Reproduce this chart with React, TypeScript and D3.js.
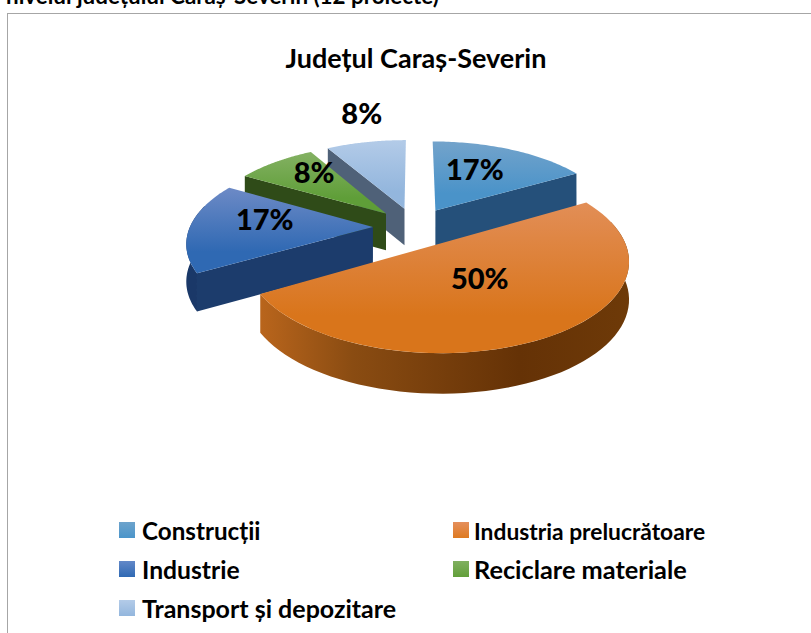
import React from "react";
import * as d3 from "d3";

const categories = ["Construcții", "Industria prelucrătoare", "Industrie", "Reciclare materiale", "Transport și depozitare"];
const projects = [2, 6, 2, 1, 1];
const percentLabels = ["17%", "50%", "17%", "8%", "8%"];
const drawOrder = [4, 0, 3, 2, 1];

const topColors = [["#73a3cb", "#4a93c9"], ["#e28e57", "#d9751b"], ["#6d8ac6", "#2f69b3"], ["#84b163", "#5f9e38"], ["#b3cbe8", "#93b6dd"]];
const wallColors = ["#25507a", "#693608", "#1c3c6c", "#2f4b18", "#4f6178"];
const legendColors = [["#6da3cc", "#4b95ca"], ["#e58f5c", "#de7a20"], ["#6288c8", "#2f69b3"], ["#80b060", "#629f3a"], ["#b3cbe8", "#93b6dd"]];
const labelRadius = [0.45, 0.45, 0.58, 0.56, 0.95];
const labelNudge = [[3, -12], [-4, -4], [-2, -7], [-7, -11], [-6, -32]];

const cx = 415, cy = 227, rx = 183, ry = 85, k = 0.16, explode = 0.23, depth = 37;
const project = (X: number, Y: number, z = 0): [number, number] => {
  const s = 1 / (1 - k * Y);
  return [cx + rx * X * s, cy + ry * Y * s + z * (0.6 + 0.4 * s)];
};

const pieGen = d3.pie<number>().sort(null).value((d) => d);
const arcs = pieGen(projects);
const lineGen = d3.line<[number, number]>();

function sliceGeom(a: d3.PieArcDatum<number>) {
  const mid = (a.startAngle + a.endAngle) / 2;
  const ox = Math.sin(mid) * explode, oy = -Math.cos(mid) * explode;
  const pt = (t: number, r = 1, z = 0) => project(ox + r * Math.sin(t), oy - r * Math.cos(t), z);
  return { mid, pt };
}
const range = (a: number, b: number) => d3.range(0, 61).map((i) => a + ((b - a) * i) / 60);

function Slice({ i }: { i: number }) {
  const a = arcs[i];
  const { mid, pt } = sliceGeom(a);
  const apex = pt(0, 0);
  const outer = range(a.startAngle, a.endAngle).map((t) => pt(t));
  const top = lineGen([apex, ...outer])! + "Z";
  const inner = pt(mid, 0.6);
  const wallAt = (t: number) => {
    const e = pt(t);
    const dx = e[0] - apex[0];
    if (Math.abs(dx) < 3) return null;
    const yLine = apex[1] + ((e[1] - apex[1]) * (inner[0] - apex[0])) / dx;
    if (inner[1] > yLine) return null;
    return lineGen([apex, e, pt(t, 1, depth), pt(0, 0, depth)])! + "Z";
  };
  const lo = Math.max(a.startAngle, (75 * Math.PI) / 180);
  const hi = Math.min(a.endAngle, (285 * Math.PI) / 180);
  const rim = hi > lo ? range(lo, hi) : null;
  const rimPath = rim ? lineGen([...rim.map((t) => pt(t)), ...rim.slice().reverse().map((t) => pt(t, 1, depth))])! + "Z" : null;
  const w0 = wallAt(a.startAngle), w1 = wallAt(a.endAngle);
  return (
    <g>
      {w0 && <path d={w0} fill={wallColors[i]} />}
      {w1 && <path d={w1} fill={wallColors[i]} />}
      {rimPath && <path d={rimPath} fill={`url(#rim${i})`} />}
      <path d={top} fill={`url(#top${i})`} />
    </g>
  );
}

function Label({ i }: { i: number }) {
  const { mid, pt } = sliceGeom(arcs[i]);
  const [x, y] = pt(mid, labelRadius[i]);
  return (
    <text x={x + labelNudge[i][0]} y={y + labelNudge[i][1]} dy="0.36em" textAnchor="middle" fontSize={29} fontWeight={900} fill="#000">
      {percentLabels[i]}
    </text>
  );
}

const legendX = [119, 453];
const legendTextX = [142, 474];
const legendY = [522, 561, 600];
const legendSize = [24.2, 22.8, 24.7, 25.3, 25];

export default function App() {
  return (
    <svg width={811} height={633} style={{ position: "absolute", left: 0, top: 0 }} fontFamily="Lato, sans-serif">
      <defs>
        {categories.map((_, i) => {
          const ys = outerYs(i);
          return (
            <React.Fragment key={i}>
              <linearGradient id={`top${i}`} gradientUnits="userSpaceOnUse" x1={0} x2={0} y1={ys[0]} y2={ys[0] + (ys[1] - ys[0]) * 0.75}>
                <stop offset="0" stopColor={topColors[i][0]} />
                <stop offset="1" stopColor={topColors[i][1]} />
              </linearGradient>
              <linearGradient id={`rim${i}`} gradientUnits="userSpaceOnUse" x1={260} x2={630} y1={0} y2={0}>
                <stop offset="0" stopColor={i === 1 ? "#b9651c" : "#1a3868"} />
                <stop offset="0.25" stopColor={i === 1 ? "#8a4c12" : "#1c3c6c"} />
                <stop offset="0.7" stopColor={i === 1 ? "#653206" : "#1c3c6c"} />
                <stop offset="1" stopColor={i === 1 ? "#6e3a08" : "#1c3c6c"} />
              </linearGradient>
            </React.Fragment>
          );
        })}
        {categories.map((_, i) => (
          <linearGradient key={i} id={`leg${i}`} x1="0" x2="0" y1="0" y2="1">
            <stop offset="0" stopColor={legendColors[i][0]} />
            <stop offset="1" stopColor={legendColors[i][1]} />
          </linearGradient>
        ))}
      </defs>
      <rect width={811} height={633} fill="#fff" />
      <text x={6} y={4} fontSize={22.4} fontWeight={700}>nivelul județului Caraș-Severin (12 proiecte)</text>
      <rect x={7.5} y={13.5} width={820} height={640} fill="#fff" stroke="#a6a6a6" />
      <text x={416} y={68} textAnchor="middle" fontSize={27} fontWeight={700}>Județul Caraș-Severin</text>
      {drawOrder.map((i) => <Slice key={i} i={i} />)}
      {drawOrder.map((i) => <Label key={i} i={i} />)}
      {categories.map((c, i) => {
        const col = i % 2, row = Math.floor(i / 2);
        return (
          <g key={c}>
            <rect x={legendX[col]} y={legendY[row]} width={16} height={16} fill={`url(#leg${i})`} />
            <text x={legendTextX[col]} y={legendY[row] + 18} fontSize={legendSize[i]} fontWeight={700}>{c}</text>
          </g>
        );
      })}
    </svg>
  );
}

function outerYs(i: number): [number, number] {
  const a = arcs[i];
  const { pt } = sliceGeom(a);
  const ys = [pt(0, 0), ...range(a.startAngle, a.endAngle).map((t) => pt(t))].map((p) => p[1]);
  return [d3.min(ys)!, d3.max(ys)!];
}
